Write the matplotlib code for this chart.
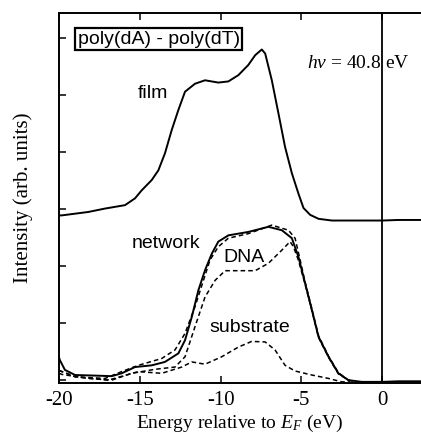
import matplotlib
matplotlib.use("Agg")
import matplotlib.pyplot as plt

plt.rcParams["mathtext.fontset"] = "custom"
plt.rcParams["mathtext.it"] = "Liberation Serif:italic"
plt.rcParams["mathtext.rm"] = "Liberation Serif"

# ---- data ----
film_x = [-20, -19.83, -18.19, -17.15, -15.91, -15.29, -14.88, -14.26, -13.85, -13.44, -13.02,
          -12.61, -12.20, -11.58, -10.96, -10.14, -9.52, -8.90, -8.28, -7.86, -7.45, -7.24,
          -6.83, -6.42, -6.01, -5.59, -5.18, -4.87, -4.46, -3.94, -3.11, -2, -1, 0, 1, 2.4]
film_y = [2.89, 2.89, 2.95, 3.01, 3.07, 3.19, 3.33, 3.51, 3.68, 3.98, 4.39,
          4.74, 5.06, 5.20, 5.26, 5.22, 5.24, 5.35, 5.53, 5.70, 5.80, 5.73,
          5.26, 4.68, 4.09, 3.63, 3.27, 3.02, 2.90, 2.83, 2.80, 2.80, 2.80, 2.80, 2.81, 2.81]

net_x = [-20, -19.94, -19.63, -19.0, -17.77, -16.74, -16.12, -15.29, -14.26, -13.44, -12.61,
         -12.20, -11.78, -11.37, -10.96, -10.54, -10.14, -9.52, -8.28, -7.04, -6.21, -5.59,
         -5.18, -4.77, -4.35, -3.94, -3.32, -2.71, -2.09, -1.26, 0, 1, 2.4]
net_y = [0.40, 0.35, 0.18, 0.09, 0.08, 0.07, 0.12, 0.23, 0.26, 0.32, 0.47,
         0.70, 1.11, 1.58, 1.93, 2.22, 2.43, 2.54, 2.60, 2.69, 2.63, 2.49,
         2.16, 1.70, 1.23, 0.76, 0.41, 0.12, 0.00, -0.03, -0.03, -0.02, -0.02]

fit_x = [-20, -19.0, -17.15, -16.12, -15.09, -13.64, -12.82, -12.2, -11.58, -11.06, -10.65,
         -10.14, -9.52, -8.28, -6.83, -5.80, -5.39, -5.08, -4.77, -4.35, -3.94, -3.32,
         -2.71, -2.09, -1.8]
fit_y = [0.17, 0.06, 0.03, 0.15, 0.26, 0.38, 0.53, 0.82, 1.29, 1.75, 2.11,
         2.34, 2.49, 2.57, 2.72, 2.63, 2.49, 2.11, 1.72, 1.25, 0.78, 0.42,
         0.13, 0.0, -0.02]

dna_x = [-20, -19.8, -18.2, -16.74, -15.5, -14.06, -12.82, -12.2, -11.58, -10.96, -10.34,
         -9.72, -8.69, -7.86, -7.04, -6.21, -5.70, -5.49, -5.18, -4.77, -4.35, -3.94,
         -3.32, -2.71, -2.09, -1.8]
dna_y = [0.12, 0.10, 0.03, 0.00, 0.12, 0.19, 0.23, 0.41, 0.94, 1.46, 1.75,
         1.92, 1.92, 1.92, 2.05, 2.28, 2.43, 2.34, 2.10, 1.68, 1.22, 0.75,
         0.40, 0.11, 0.0, -0.02]

sub_x = [-20, -19.8, -19.0, -16.95, -15.09, -13.64, -12.40, -11.78, -10.96, -9.93, -8.9,
         -8.07, -7.24, -6.63, -6.01, -5.39, -4.35, -3.32, -2.5, -2.0]
sub_y = [0.17, 0.15, 0.06, 0.00, 0.15, 0.12, 0.23, 0.32, 0.28, 0.41, 0.58,
         0.68, 0.67, 0.53, 0.26, 0.16, 0.09, 0.03, -0.03, -0.03]

xticks = [-20, -15, -10, -5, 0]
xticklabels = ["-20", "-15", "-10", "-5", "0"]
yticks = [0, 1, 2, 3, 4, 5, 6]

# ---- figure ----
fig = plt.figure(figsize=(4.21, 4.34), dpi=100)
ax = fig.add_axes([0.140, 0.1175, 0.86, 0.8525])

ax.plot(film_x, film_y, color="black", lw=1.4)
ax.plot(net_x, net_y, color="black", lw=1.4)
dash = (0, (3, 2))
ax.plot(fit_x, fit_y, color="black", lw=1.1, ls=dash)
ax.plot(dna_x, dna_y, color="black", lw=1.1, ls=dash)
ax.plot(sub_x, sub_y, color="black", lw=1.1, ls=dash)
ax.axvline(0, color="black", lw=1.3)

ax.set_xlim(-20, 2.4)
ax.set_ylim(-0.05, 6.44)

ax.set_xticks(xticks)
ax.set_xticklabels(xticklabels, family="Liberation Serif", fontsize=15)
ax.set_yticks(yticks)
ax.set_yticklabels([])
ax.tick_params(axis="both", direction="in", length=5, width=1.1, top=True, right=False)
ax.tick_params(axis="x", pad=6)

for s in ["left", "top", "bottom"]:
    ax.spines[s].set_linewidth(1.4)
ax.spines["right"].set_visible(False)

ax.set_xlabel("Energy relative to $\\mathit{E_F}$ (eV)", family="Liberation Serif",
              fontsize=14, labelpad=2)
ax.set_ylabel("Intensity (arb. units)", family="Liberation Serif", fontsize=15, labelpad=15)

sans = "Liberation Sans"
fs = 14
ax.text(-15.1, 5.03, "film", family=sans, fontsize=fs, va="center", ha="left")
ax.text(-15.5, 2.40, "network", family=sans, fontsize=fs, va="center", ha="left")
ax.text(-9.85, 2.16, "DNA", family=sans, fontsize=fs, va="center", ha="left")
ax.text(-10.7, 0.93, "substrate", family=sans, fontsize=fs, va="center", ha="left")
ax.text(-18.85, 5.98, "poly(dA) - poly(dT)", family=sans, fontsize=fs, va="center", ha="left",
        bbox=dict(boxstyle="square,pad=0.12", fc="white", ec="black", lw=1.6))
ax.text(-4.65, 5.56, "$h\\nu$ = 40.8 eV", family="Liberation Serif", fontsize=14,
        va="center", ha="left")

fig.savefig("out.png", dpi=100)
